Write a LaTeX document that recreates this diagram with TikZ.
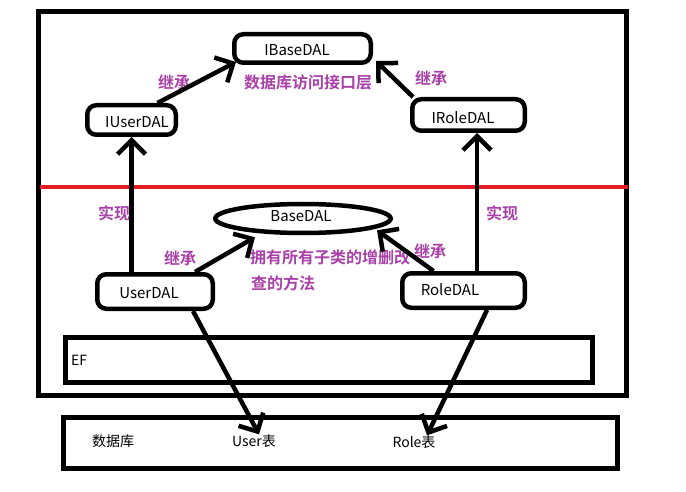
\documentclass[tikz,border=0pt]{standalone}
\usepackage{fontspec}
\setmainfont{Noto Sans CJK SC}
\newfontfamily\cjkb{Noto Sans CJK SC Bold}
\usetikzlibrary{arrows.meta,shapes.geometric}
\definecolor{lbl}{RGB}{168,64,168}
\definecolor{redline}{RGB}{228,28,36}
\begin{document}
\begin{tikzpicture}[x=1pt,y=-1pt,
  box/.style={draw,line width=4.5pt,rounded corners=9pt,inner sep=0pt},
  plain/.style={draw,line width=5pt,inner sep=0pt},
  lab/.style={text=lbl,font=\cjkb\fontsize{16}{18}\selectfont,inner sep=0pt},
  txt/.style={font=\fontsize{15}{17}\selectfont,inner sep=0pt},
  dbtxt/.style={font=\fontsize{14}{16}\selectfont,inner sep=0pt},
  arr/.style={line width=4.5pt,-{Straight Barb[length=14pt,width=28pt,line width=4.5pt]}}]
\useasboundingbox (0,0) rectangle (686,492);
% outer rectangle
\node[plain,minimum width=588pt,minimum height=383pt] (outer) at (332,203.5) {};
\draw[redline,line width=4pt] (40,187) coordinate (r1) -- (628,187) coordinate (r2);
% nodes
\node[box,minimum width=136.5pt,minimum height=28.5pt,
  label={[txt,xshift=-5.5pt,yshift=-1.5pt]center:IBaseDAL}] (ibase) at (302.5,48.5) {};
\node[box,minimum width=88.5pt,minimum height=29.5pt,
  label={[txt,xshift=5.5pt,yshift=-2pt]center:IUserDAL}] (iuser) at (131.5,120) {};
\node[box,minimum width=112.5pt,minimum height=31.5pt,
  label={[txt,xshift=-5.5pt,yshift=-3pt]center:IRoleDAL}] (irole) at (468.5,115) {};
\node[draw,ellipse,line width=4.5pt,minimum width=175.5pt,minimum height=29pt,inner sep=0pt,
  label={[txt,xshift=-2pt,yshift=2pt]center:BaseDAL}] (base) at (303,218.5) {};
\node[box,minimum width=115.5pt,minimum height=34.5pt,
  label={[txt,xshift=-6pt,yshift=-1.5pt]center:UserDAL}] (user) at (155,291.5) {};
\node[box,minimum width=122.5pt,minimum height=34.5pt,
  label={[txt,xshift=-13.5pt,yshift=0.5pt]center:RoleDAL}] (role) at (463.5,290.5) {};
\node[plain,minimum width=527pt,minimum height=45pt] (ef) at (328.5,359.5) {};
\node[dbtxt,anchor=west] (eft) at (71,360) {EF};
\node[plain,minimum width=554pt,minimum height=51pt] (db) at (340,442.5) {};
\node[dbtxt] (dbt) at (113,441) {数据库};
\node[dbtxt] (usert) at (254,441) {User表};
\node[dbtxt] (rolet) at (414,442) {Role表};
% labels
\node[lab] (l1) at (174,82) {继承};
\node[lab] (l2) at (308,82) {数据库访问接口层};
\node[lab] (l3) at (431,78) {继承};
\node[lab] (l4) at (114,213) {实现};
\node[lab] (l5) at (502,213) {实现};
\node[lab] (l6) at (180,258) {继承};
\node[lab] (l7) at (430,251) {继承};
\node[lab,anchor=west] (l8) at (250,257) {拥有所有子类的增删改};
\node[lab,anchor=west] (l9) at (251,283) {查的方法};
% arrows
\draw[arr] ([xshift=26pt]iuser.north) -- ([shift={(4pt,3pt)}]ibase.south west);
\draw[arr] ([xshift=3pt]irole.north west) -- ([shift={(3pt,4pt)}]ibase.south east);
\draw[arr] ([xshift=40pt]user.north) -- ([shift={(-48pt,-2pt)}]base.south);
\draw[arr] ([xshift=-30pt]role.north) -- ([shift={(74pt,5pt)}]base.south);
\draw[arr] (iuser.south |- user.north) -- (iuser.south);
\coordinate (rt) at ([xshift=8.5pt]irole.south);
\draw[arr] (rt |- role.north) -- (rt);
\draw[arr] ([xshift=38pt]user.south) -- ([xshift=5pt]usert.north);
\draw[arr] ([xshift=23.5pt]role.south) -- ([xshift=13pt]rolet.north);
\end{tikzpicture}
\end{document}
